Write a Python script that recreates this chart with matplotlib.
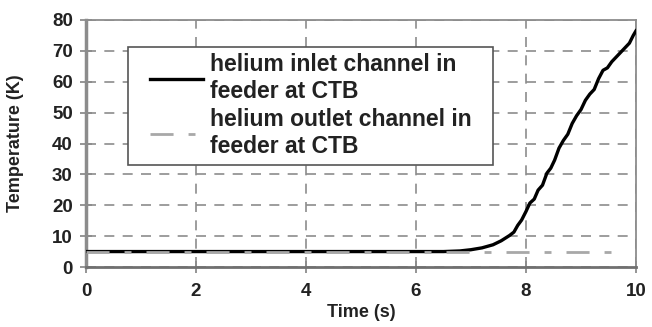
import matplotlib
matplotlib.use("Agg")
import matplotlib.pyplot as plt
from matplotlib.patches import Rectangle

# Inlet channel temperature (K) versus time (s)
inlet_time = [0.0, 1.0, 2.0, 3.0, 4.0, 5.0, 6.0, 6.5, 6.8, 7.0, 7.2, 7.4, 7.55, 7.7, 7.78,
              7.85, 7.92, 8.0, 8.07, 8.15, 8.22, 8.3, 8.38, 8.45, 8.52, 8.6, 8.68, 8.76,
              8.84, 8.92, 9.0, 9.08, 9.16, 9.24, 9.32, 9.4, 9.48, 9.56, 9.64, 9.72, 9.8,
              9.88, 9.95, 10.0]
inlet_temp = [5.0, 5.0, 5.0, 5.0, 5.0, 5.0, 5.0, 5.0, 5.2, 5.6, 6.2, 7.2, 8.5, 10.2, 11.3,
              13.5, 15.2, 18.0, 20.7, 22.0, 24.9, 26.5, 30.4, 32.0, 34.6, 38.5, 41.0, 43.0,
              46.5, 49.0, 51.0, 54.0, 56.0, 57.5, 61.0, 63.7, 64.5, 66.5, 68.0, 69.5, 71.0,
              72.5, 75.0, 76.5]

# Outlet channel temperature (K) versus time (s)
outlet_time = [0.0, 2.0, 4.0, 6.0, 8.0, 9.8]
outlet_temp = [5.0, 5.0, 5.0, 5.0, 5.0, 5.0]

x_ticks = [0, 2, 4, 6, 8, 10]
y_ticks = [0, 10, 20, 30, 40, 50, 60, 70, 80]

inlet_label = "helium inlet channel in\nfeeder at CTB"
outlet_label = "helium outlet channel in\nfeeder at CTB"

plt.rcParams["font.family"] = ["Liberation Sans", "DejaVu Sans"]
plt.rcParams["font.weight"] = "bold"

W, H = 652, 327
fig = plt.figure(figsize=(W / 100, H / 100), dpi=100)
ax_left, ax_bottom, ax_w, ax_h = 86, 60, 550, 247
ax = fig.add_axes([ax_left / W, ax_bottom / H, ax_w / W, ax_h / H])


def px_to_axes(px, py):
    """Convert figure pixel coordinates (origin top-left) to axes fractions."""
    return (px - ax_left) / ax_w, (H - py - ax_bottom) / ax_h


grid_col = "#8c8c8c"
text_col = "#222222"
ax.plot(inlet_time, inlet_temp, color="black", lw=2.4, zorder=3, label=inlet_label)
ax.plot(outlet_time, outlet_temp, color="#a8a8a8", lw=2.0, dashes=(8.3, 5.4, 2.5, 5.4),
        zorder=4, label=outlet_label)

ax.set_xlim(0, 10)
ax.set_ylim(0, 80)
ax.set_xticks(x_ticks)
ax.set_yticks(y_ticks)
ax.grid(True, color=grid_col, lw=1.2, dashes=(6, 5))
ax.set_axisbelow(True)

for side in ["top", "right", "bottom", "left"]:
    ax.spines[side].set_color(grid_col)
    ax.spines[side].set_linewidth(1.3)
ax.spines["left"].set_linewidth(2.5)
ax.spines["bottom"].set_linewidth(2.0)
ax.spines["bottom"].set_color("#707070")

ax.tick_params(axis="both", direction="inout", length=9, width=1.3, color=grid_col,
               labelsize=13.5, labelcolor=text_col)
ax.tick_params(axis="x", pad=7)
ax.tick_params(axis="y", pad=5)
for lab in ax.get_xticklabels() + ax.get_yticklabels():
    lab.set_fontweight("bold")

ax.set_xlabel("Time (s)", fontsize=13, fontweight="bold", labelpad=3, color=text_col)
ax.set_ylabel("Temperature (K)", fontsize=13, fontweight="bold", labelpad=20,
              color=text_col)

# Legend frame drawn as its own box so the padding around the entries can be wider
x0, y_top = px_to_axes(128, 47)
x1, y_bot = px_to_axes(493, 165)
ax.add_patch(Rectangle((x0, y_bot), x1 - x0, y_top - y_bot, transform=ax.transAxes,
                       facecolor="white", edgecolor="#555555", lw=1.2, zorder=2.5))

leg = ax.legend(loc="upper left", bbox_to_anchor=px_to_axes(150, 53),
                frameon=False, fontsize=16.5, handlelength=2.3, labelspacing=0.25,
                borderpad=0, handletextpad=0.3, borderaxespad=0)
leg.set_zorder(5)
for t in leg.get_texts():
    t.set_fontweight("bold")
    t.set_color(text_col)

fig.savefig("out.png", dpi=100)
